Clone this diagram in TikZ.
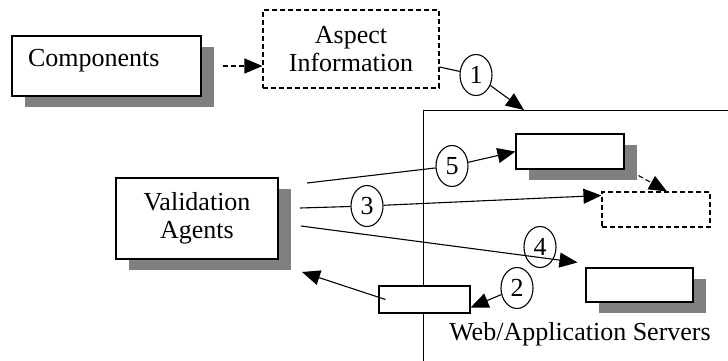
\documentclass[tikz,border=0pt]{standalone}
\usepackage{fontspec}
\setmainfont{Liberation Serif}
\usetikzlibrary{arrows.meta, positioning, shapes.geometric, shadows, calc}
\tikzset{%
	box/.style={draw, rectangle, fill=white, line width=1.1pt},
	dbox/.style={box, dash pattern=on 5pt off 3pt},
	shade/.style={drop shadow={shadow xshift=13pt, shadow yshift=-11pt, fill=black!50, opacity=1}},
	bigtext/.style={font=\fontsize{26}{28.5}\selectfont, align=center},
	num/.style={draw, ellipse, minimum width=32pt, minimum height=41pt, inner sep=0pt,%
		line width=1.1pt, font=\fontsize{26}{28}\selectfont},
	conn/.style={line width=1.1pt, -{Triangle[length=18pt, width=15pt]}},
	dconn/.style={conn, dash pattern=on 5pt off 3pt}
}

\begin{document}
\begin{tikzpicture}[x=1pt, y=-1pt]
	\useasboundingbox (0,0) rectangle (728,360);
	%server area
	\node [draw, line width=1.1pt, minimum width=337pt, minimum height=290pt, anchor=north west] (server) at (423,110) {};
	\node [bigtext, anchor=base] (srvname) at (580,340) {Web/Application Servers};

	%boxes
	\node [box, shade, bigtext, align=left, text width=157pt, inner xsep=16pt, inner ysep=12pt,%
		text height=18pt, text depth=18pt] (comp) at (106.5,66) {Components};
	\node [dbox, bigtext, minimum width=176pt, minimum height=78pt] (aspect) at (351,49) {Aspect\\Information};
	\node [box, shade, bigtext, minimum width=162pt, minimum height=81pt] (valid) at (197,218.5) {Validation\\Agents};
	\node [box, shade, minimum width=108pt, minimum height=35pt] (b5) at (570,151.5) {};
	\node [dbox, minimum width=108pt, minimum height=35pt] (bd) at (656,209.5) {};
	\node [box, shade, minimum width=107pt, minimum height=34pt] (b4) at (639.5,285) {};
	\node [box, minimum width=91pt, minimum height=27pt] (b2) at (424.5,299.5) {};

	%numbers
	\node [num] (c1) at (476,75) {1};
	\node [num] (c5) at (452,166) {5};
	\node [num] (c3) at (367,206) {3};
	\node [num] (c4) at (540,247) {4};
	\node [num] (c2) at (517,288) {2};

	%loose ends
	\coordinate (t1) at (524,110);
	\coordinate (v5) at (307,183);
	\coordinate (v3) at (300,208);
	\coordinate (v4) at (301,226);
	\coordinate (vin) at (302,272);

	%arrows
	\draw [dconn] ([xshift=21pt]comp.east) -- (comp.east -| aspect.west);
	\draw [conn] ([yshift=-18pt]aspect.east) -- (c1) -- (t1);
	\draw [conn] (v5) -- (c5) -- (b5.west);
	\draw [conn] (v3) -- (c3) -- ([yshift=-4pt]bd.north west);
	\draw [conn] (v4) -- ([xshift=-8pt, yshift=5pt]b4.north west);
	\draw [conn] (c2) -- ([yshift=-8pt]b2.east);
	\draw [conn] ([xshift=7pt]b2.west) -- (vin);
	\draw [dconn] ([xshift=14pt, yshift=-6pt]b5.south east) -- ([xshift=11pt]bd.north);
\end{tikzpicture}
\end{document}
